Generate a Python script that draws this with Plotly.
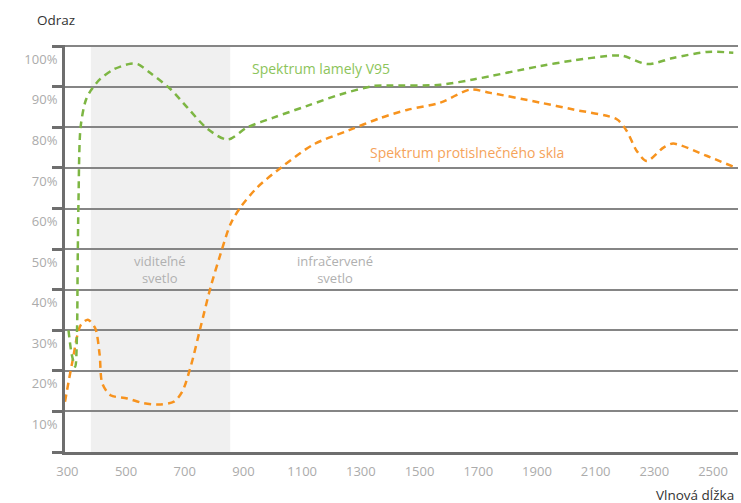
import plotly.graph_objects as go

# Wavelength (nm) and reflectance (%)
green_x = [304, 315, 327, 333, 335, 338, 345, 362, 379, 413, 458, 515, 540, 583, 652, 710, 778, 846,
           913, 1002, 1117, 1230, 1343, 1400, 1571, 1683, 1911, 2024, 2160, 2194, 2276, 2364, 2480, 2569]
green_y = [30, 24, 21, 30, 45, 62, 80, 86.5, 89, 92, 94.3, 95.7, 95.6, 93.4, 89.4, 84.8, 79.6, 77,
           80, 82.4, 85.3, 88.1, 90.2, 90.3, 90.5, 91.8, 95.1, 96.5, 97.7, 97.6, 95.6, 97.1, 98.6, 98.4]

orange_x = [292, 317, 345, 370, 395, 410, 419, 447, 504, 561, 618, 663, 691, 720, 754, 788, 822, 856,
            890, 947, 1030, 1139, 1260, 1366, 1457, 1571, 1672, 1741, 1911, 2024, 2172, 2206, 2240,
            2274, 2331, 2364, 2478, 2569]
orange_y = [12.4, 22.2, 31.2, 32.6, 30.5, 24, 16.9, 14, 13.2, 12, 11.7, 12.4, 14.8, 21, 30.8, 40.6, 48.8, 56.2,
            60.3, 65.2, 70.2, 75.8, 79.3, 82.3, 84.3, 86.1, 89.3, 88.5, 86.1, 84.4, 82, 79.1, 74.2,
            71.7, 75, 76, 73, 70.3]

visible_range = [380, 855]
x_ticks = [300, 500, 700, 900, 1100, 1300, 1500, 1700, 1900, 2100, 2300, 2500]
grid_vals = [0, 10, 20, 30, 40, 50, 60, 70, 80, 90, 100]
y_tick_labels = ["10%", "20%", "30%", "40%", "50%", "60%", "70%", "80%", "90%", "100%"]
y_label_pos = [6.8, 16.8, 26.8, 36.8, 46.8, 56.8, 66.8, 76.8, 86.8, 96.8]

FONT = "Open Sans"
GREEN = "#7db643"
ORANGE = "#f7931e"
AXIS = "#6e6e6e"
LABEL = "#ababab"

fig = go.Figure()
fig.add_trace(go.Scatter(x=orange_x, y=orange_y, mode="lines",
                         line=dict(color=ORANGE, width=2.5, dash="7px,5px", shape="spline", smoothing=0.8),
                         hoverinfo="skip", showlegend=False))
fig.add_trace(go.Scatter(x=green_x, y=green_y, mode="lines",
                         line=dict(color=GREEN, width=2.5, dash="7px,5px", shape="spline", smoothing=0.8),
                         hoverinfo="skip", showlegend=False))
fig.add_trace(go.Scatter(x=[None], y=[None], yaxis="y2", showlegend=False, hoverinfo="skip"))

fig.add_vrect(x0=visible_range[0], x1=visible_range[1], fillcolor="#f0f0f0", line_width=0, layer="below")

fig.update_layout(
    width=741, height=503,
    margin=dict(l=65, r=3, t=45, b=51),
    paper_bgcolor="white", plot_bgcolor="white",
    font=dict(family=FONT, size=13, color=LABEL),
    xaxis=dict(range=[292, 2585], tickvals=x_ticks, ticks="", showgrid=False, zeroline=False,
               showline=True, linecolor=AXIS, linewidth=2.5,
               tickfont=dict(family=FONT, size=13, color=LABEL), ticklabelstandoff=6),
    yaxis=dict(range=[0, 100.3], tickvals=grid_vals, showticklabels=False, ticks="outside",
               ticklen=10, tickwidth=2.5, tickcolor=AXIS, showgrid=True, gridcolor="#858585",
               gridwidth=1.5, zeroline=False, showline=True, linecolor=AXIS, linewidth=2.5),
    yaxis2=dict(range=[0, 100.3], overlaying="y", side="left", tickvals=y_label_pos,
                ticktext=y_tick_labels, showgrid=False, zeroline=False, showline=False,
                ticks="outside", ticklen=4, tickcolor="rgba(0,0,0,0)",
                tickfont=dict(family=FONT, size=13, color=LABEL)),
    annotations=[
        dict(text="Odraz", xref="paper", yref="paper", x=-0.045, y=1.062, xanchor="left", yanchor="middle",
             showarrow=False, font=dict(family=FONT, size=13.5, color="#333333")),
        dict(text="Vlnová dĺžka", xref="paper", yref="paper", x=0.997, y=-0.105, xanchor="right",
             yanchor="middle", showarrow=False, font=dict(family=FONT, size=13.5, color="#333333")),
        dict(text="Spektrum lamely V95", x=924, y=94.6, xanchor="left", yanchor="middle", showarrow=False,
             font=dict(family=FONT, size=14, color="#8cc45a")),
        dict(text="Spektrum protislnečného skla", x=1326, y=73.7, xanchor="left", yanchor="middle",
             showarrow=False, font=dict(family=FONT, size=14, color="#f5a35a")),
        dict(text="viditeľné<br>svetlo", x=617, y=45, xanchor="center", yanchor="middle", showarrow=False,
             font=dict(family=FONT, size=13, color="#b0b0b0")),
        dict(text="infračervené<br>svetlo", x=1213, y=45, xanchor="center", yanchor="middle", showarrow=False,
             font=dict(family=FONT, size=13, color="#b0b0b0")),
    ],
)

fig.write_html("out.html", config={"displayModeBar": False},
               post_script="document.body.style.margin='0';document.body.style.overflow='hidden';")
